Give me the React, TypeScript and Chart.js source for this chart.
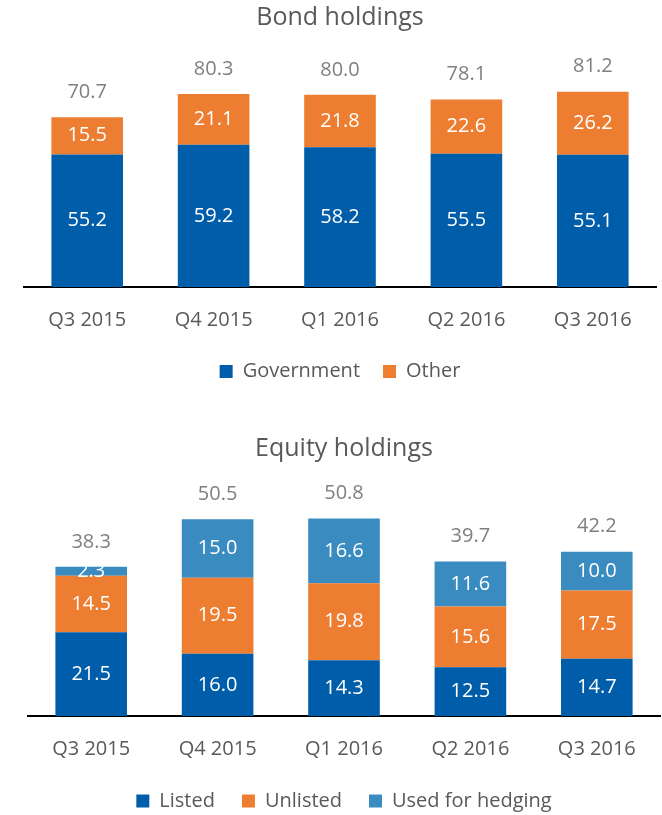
import React, { useEffect, useRef } from "react";
import { Chart, registerables } from "chart.js";

Chart.register(...registerables);

const categories = ["Q3 2015", "Q4 2015", "Q1 2016", "Q2 2016", "Q3 2016"];

const bondGovernment = [55.2, 59.2, 58.2, 55.5, 55.1];
const bondOther = [15.5, 21.1, 21.8, 22.6, 26.2];
const bondTotals = [70.7, 80.3, 80.0, 78.1, 81.2];

const equityListed = [21.5, 16.0, 14.3, 12.5, 14.7];
const equityUnlisted = [14.5, 19.5, 19.8, 15.6, 17.5];
const equityHedging = [2.3, 15.0, 16.6, 11.6, 10.0];
const equityTotals = [38.3, 50.5, 50.8, 39.7, 42.2];

const BLUE = "#005DA9";
const ORANGE = "#ED7D31";
const LIGHTBLUE = "#3A8BBF";
const TEXT = "#595959";
const TOTAL = "#7F7F7F";
const FONT = "'Open Sans', sans-serif";

const segLabels = {
  id: "segLabels",
  afterDatasetsDraw(chart: any, _args: any, opts: any) {
    const ctx = chart.ctx;
    ctx.save();
    ctx.font = `20px ${FONT}`;
    ctx.textAlign = "center";
    ctx.textBaseline = "middle";
    chart.data.datasets.forEach((ds: any, i: number) => {
      const meta = chart.getDatasetMeta(i);
      meta.data.forEach((bar: any, j: number) => {
        const v = ds.data[j];
        ctx.fillStyle = "#FFFFFF";
        ctx.fillText(v.toFixed(1), bar.x, (bar.y + bar.base) / 2);
      });
    });
    const totals: number[] = opts.totals || [];
    const last = chart.getDatasetMeta(chart.data.datasets.length - 1);
    last.data.forEach((bar: any, j: number) => {
      ctx.fillStyle = TOTAL;
      ctx.fillText(totals[j].toFixed(1), bar.x, bar.y - 25);
    });
    ctx.restore();
  },
};

type Cfg = {
  title: string;
  series: { label: string; data: number[]; color: string }[];
  totals: number[];
  yMax: number;
  padLeft: number;
  padRight: number;
  padBottom: number;
  titleTop: number;
  titleBottom: number;
  tickPad: number;
  extra: number;
  legendPad: number;
};

function makeChart(canvas: HTMLCanvasElement, c: Cfg) {
  return new Chart(canvas, {
    type: "bar",
    data: {
      labels: categories,
      datasets: c.series.map((s) => ({
        label: s.label,
        data: s.data,
        backgroundColor: s.color,
        borderWidth: 0,
        categoryPercentage: 1,
        barPercentage: 0.5665,
      })),
    },
    options: {
      responsive: false,
      animation: false,
      layout: { padding: { left: c.padLeft, right: c.padRight, top: 0, bottom: c.padBottom } },
      font: { family: FONT },
      scales: {
        x: {
          stacked: true,
          grid: { display: false, drawTicks: false },
          border: { display: true, color: "#000000", width: 2 },
          ticks: { color: TEXT, font: { family: FONT, size: 20 }, padding: c.tickPad },
          afterFit: (s: any) => {
            s.height += c.extra;
          },
        },
        y: { stacked: true, display: false, min: 0, max: c.yMax },
      },
      plugins: {
        title: {
          display: true,
          text: c.title,
          color: TEXT,
          font: { family: FONT, size: 25, weight: "normal" },
          padding: { top: c.titleTop, bottom: c.titleBottom },
        },
        legend: {
          display: true,
          position: "bottom",
          labels: {
            color: TEXT,
            font: { family: FONT, size: 20 },
            boxWidth: 13,
            boxHeight: 13,
            padding: c.legendPad,
          },
        },
        tooltip: { enabled: false },
        segLabels: { totals: c.totals },
      } as any,
    },
    plugins: [segLabels],
  } as any);
}

export default function App() {
  const ref1 = useRef<HTMLCanvasElement>(null);
  const ref2 = useRef<HTMLCanvasElement>(null);

  useEffect(() => {
    const c1 = makeChart(ref1.current!, {
      title: "Bond holdings",
      series: [
        { label: "Government", data: bondGovernment, color: BLUE },
        { label: "Other", data: bondOther, color: ORANGE },
      ],
      totals: bondTotals,
      yMax: 94.5,
      padLeft: 24,
      padRight: 6,
      padBottom: 8.5,
      titleTop: 3,
      titleBottom: 27,
      tickPad: 21,
      extra: -14.5,
      legendPad: 23,
    });
    const c2 = makeChart(ref2.current!, {
      title: "Equity holdings",
      series: [
        { label: "Listed", data: equityListed, color: BLUE },
        { label: "Unlisted", data: equityUnlisted, color: ORANGE },
        { label: "Used for hedging", data: equityHedging, color: LIGHTBLUE },
      ],
      totals: equityTotals,
      yMax: 60.6,
      padLeft: 28,
      padRight: 2,
      padBottom: 4,
      titleTop: 34,
      titleBottom: 16,
      tickPad: 21,
      extra: -18,
      legendPad: 27,
    });
    return () => {
      c1.destroy();
      c2.destroy();
    };
  }, []);

  return (
    <div
      style={{
        position: "absolute",
        left: 0,
        top: 0,
        width: 662,
        height: 815,
        overflow: "hidden",
        background: "#FFFFFF",
      }}
    >
      <canvas
        ref={ref1}
        width={662}
        height={400}
        style={{ position: "absolute", left: 0, top: 0, width: 662, height: 400 }}
      />
      <canvas
        ref={ref2}
        width={662}
        height={425}
        style={{ position: "absolute", left: 0, top: 400, width: 662, height: 425 }}
      />
    </div>
  );
}
